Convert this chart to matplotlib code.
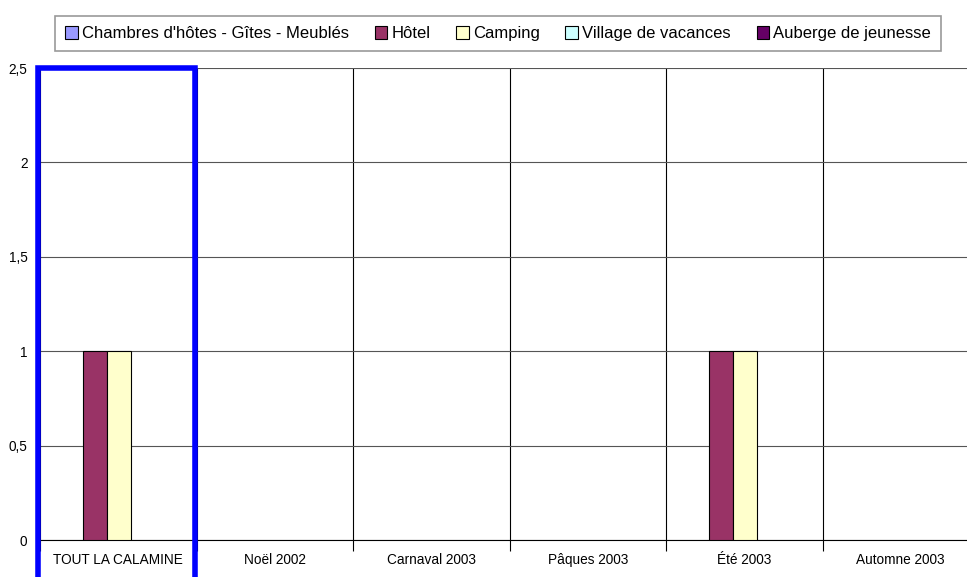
import matplotlib.pyplot as plt
from matplotlib.patches import Rectangle
import numpy as np

plt.rcParams['font.family'] = ['Liberation Sans', 'DejaVu Sans']

# données
categories = ["TOUT LA CALAMINE", "Noël 2002", "Carnaval 2003", "Pâques 2003", "Été 2003", "Automne 2003"]
series_names = ["Chambres d'hôtes - Gîtes - Meublés", "Hôtel", "Camping",
                "Village de vacances", "Auberge de jeunesse"]
chambres = [0, 0, 0, 0, 0, 0]
hotel = [1, 0, 0, 0, 1, 0]
camping = [1, 0, 0, 0, 1, 0]
village = [0, 0, 0, 0, 0, 0]
auberge = [0, 0, 0, 0, 0, 0]
colors = ["#9999FF", "#993366", "#FFFFCC", "#CCFFFF", "#660066"]

fig = plt.figure(figsize=(9.67, 5.77), dpi=100)
ax = fig.add_axes([40 / 967, 37 / 577, 939 / 967, 472 / 577])

x = np.arange(len(categories))
w = 0.153
all_series = [chambres, hotel, camping, village, auberge]
for i, (vals, name, c) in enumerate(zip(all_series, series_names, colors)):
    v = np.array(vals, dtype=float)
    pos = x + (i - 2) * w + 0.005
    ax.bar(pos[v > 0], v[v > 0], width=w, color=c, edgecolor='black', linewidth=0.8, zorder=3)
    # poignée de légende
    ax.bar([0], [0], width=0, color=c, edgecolor='black', linewidth=0.8, label=name)

ax.set_xlim(-0.5, len(categories) - 0.5)
ax.set_ylim(0, 2.5)
ax.set_yticks([0, 0.5, 1, 1.5, 2, 2.5])
ax.set_yticklabels(["0", "0,5", "1", "1,5", "2", "2,5"], fontsize=9.8)
ax.set_xticks(x)
ax.set_xticklabels(categories, fontsize=9.8)
for lab in ax.get_xticklabels():
    lab.set_verticalalignment('baseline')
ax.tick_params(axis='x', length=0, pad=17.5)
ax.tick_params(axis='y', length=3, direction='out', pad=6)

# séparateurs verticaux
ax.set_xticks(np.arange(len(categories) + 1) - 0.5, minor=True)
ax.tick_params(axis='x', which='minor', length=8, direction='out', width=0.8)
for b in np.arange(1, len(categories)) - 0.5:
    ax.axvline(b, color='black', linewidth=0.8, zorder=1)

ax.grid(axis='y', color='#555555', linewidth=0.8, zorder=0)
ax.spines['top'].set_visible(False)
ax.spines['right'].set_visible(False)
ax.spines['left'].set_linewidth(0.8)
ax.spines['bottom'].set_linewidth(0.8)

# cadre bleu autour de la première catégorie
rect = Rectangle((-0.51, -0.3), 1.0, 2.8, fill=False, edgecolor='#0000FF',
                 linewidth=4, clip_on=False, zorder=5)
ax.add_patch(rect)

leg = fig.legend(loc='upper center', bbox_to_anchor=(498 / 967, 1 - 8 / 577), ncol=5,
                 fontsize=12, frameon=True, fancybox=False, handlelength=0.75,
                 handleheight=0.75, handletextpad=0.25, columnspacing=1.55,
                 borderpad=0.6)
leg.get_frame().set_edgecolor('#808080')
leg.get_frame().set_linewidth(1.2)

fig.savefig("out.png", dpi=100)
